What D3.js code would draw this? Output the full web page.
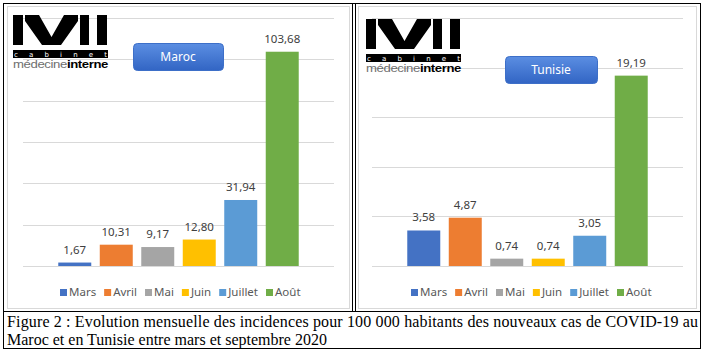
<!DOCTYPE html>
<html>
<head>
<meta charset="utf-8">
<script src="https://cdnjs.cloudflare.com/ajax/libs/d3/7.8.5/d3.min.js"></script>
<style>
  body { margin: 0; background: #fff; }
  svg { display: block; }
</style>
</head>
<body>
<div id="chart"></div>
<script>
var width_chart = 705,
    height_chart = 353;

// data
var months = ["Mars", "Avril", "Mai", "Juin", "Juillet", "Août"];
var colors = ["#4472C4", "#ED7D31", "#A5A5A5", "#FFC000", "#5B9BD5", "#70AD47"];
var maroc_values = [1.67, 10.31, 9.17, 12.80, 31.94, 103.68];
var tunisie_values = [3.58, 4.87, 0.74, 0.74, 3.05, 19.19];
var maroc_ticks = [0, 20, 40, 60, 80, 100, 120];
var tunisie_ticks = [0, 5, 10, 15, 20, 25];
var caption_lines = [
  "Figure 2 : Evolution mensuelle des incidences pour 100 000 habitants des nouveaux cas de COVID-19 au",
  "Maroc et en Tunisie entre mars et septembre 2020"
];

var font_ui = "'Noto Sans', 'Open Sans', sans-serif";

var svg = d3.select("#chart").append("svg")
    .attr("width", width_chart)
    .attr("height", height_chart);

var defs = svg.append("defs");
var grad = defs.append("linearGradient")
    .attr("id", "btn")
    .attr("x1", "0%").attr("y1", "0%")
    .attr("x2", "0%").attr("y2", "100%");
grad.append("stop").attr("offset", "0%").attr("stop-color", "#5b8ee2");
grad.append("stop").attr("offset", "100%").attr("stop-color", "#3265c4");

// table frame
var black = "#000";
function line(x1, y1, x2, y2, col, w) {
  svg.append("line")
    .attr("x1", x1).attr("y1", y1).attr("x2", x2).attr("y2", y2)
    .attr("stroke", col).attr("stroke-width", w || 1);
}

function drawChart(opts) {
  var g = svg.append("g");

  // chart area border
  g.append("rect")
    .attr("x", opts.left + 0.5).attr("y", 6.5)
    .attr("width", opts.right - opts.left).attr("height", 302)
    .attr("fill", "#fff").attr("stroke", "#d9d9d9");

  var x = d3.scaleBand()
    .domain(months)
    .range([opts.plotL, opts.plotR])
    .paddingInner(0.205)
    .paddingOuter(0.85);

  var y = d3.scaleLinear()
    .domain([0, opts.max])
    .range([266, 18]);

  // gridlines
  g.selectAll("line.grid")
    .data(opts.ticks)
    .enter().append("line")
    .attr("class", "grid")
    .attr("x1", opts.plotL).attr("x2", opts.plotR)
    .attr("y1", function(d) { return Math.round(y(d)) + 0.5; })
    .attr("y2", function(d) { return Math.round(y(d)) + 0.5; })
    .attr("stroke", "#d9d9d9");

  // bars
  g.selectAll("rect.bar")
    .data(opts.values)
    .enter().append("rect")
    .attr("class", "bar")
    .attr("x", function(d, i) { return x(months[i]); })
    .attr("width", x.bandwidth())
    .attr("y", function(d) { return y(d); })
    .attr("height", function(d) { return y(0) - y(d); })
    .attr("fill", function(d, i) { return colors[i]; });

  // labels
  g.selectAll("text.val")
    .data(opts.values)
    .enter().append("text")
    .attr("class", "val")
    .attr("x", function(d, i) { return x(months[i]) + x.bandwidth() / 2; })
    .attr("y", function(d) { return y(d) - 9; })
    .attr("text-anchor", "middle")
    .style("font", "11.5px " + font_ui)
    .style("fill", "#404040")
    .text(function(d) { return d.toFixed(2).replace(".", ","); });

  // legend
  var leg = g.append("g");
  var lx = 0, gap = 8;
  months.forEach(function(m, i) {
    leg.append("rect")
      .attr("x", lx).attr("y", -6)
      .attr("width", 7).attr("height", 7)
      .attr("fill", colors[i]);
    var t = leg.append("text")
      .attr("x", lx + 9).attr("y", 1)
      .style("font", "11.5px " + font_ui)
      .style("fill", "#595959")
      .text(m);
    lx += 9 + t.node().getComputedTextLength() + gap;
  });
  lx -= gap;
  leg.attr("transform", "translate(" + (opts.left + 53) + ",295)");

  // title button
  g.append("rect")
    .attr("x", opts.btn[0] + 0.5).attr("y", opts.btn[1] + 0.5)
    .attr("width", opts.btn[2]).attr("height", opts.btn[3])
    .attr("rx", 4)
    .attr("fill", "url(#btn)")
    .attr("stroke", "#3d6fc8");
  g.append("text")
    .attr("x", opts.btn[0] + opts.btn[2] / 2)
    .attr("y", opts.btn[1] + opts.btn[3] / 2 + 4)
    .attr("text-anchor", "middle")
    .style("font", "12px " + font_ui)
    .style("fill", "#fff")
    .text(opts.title);

  drawLogo(opts.logo[0], opts.logo[1], opts.logo[2]);
}

function drawLogo(x0, y0, s) {
  var lg = svg.append("g")
    .attr("transform", "translate(" + x0 + "," + y0 + ") scale(" + s + ")");
  // I
  lg.append("rect").attr("x", 0).attr("y", 0).attr("width", 10).attr("height", 30).attr("fill", "#000");
  // V (M middle)
  lg.append("path")
    .attr("d", "M12,0 L26,0 L38.5,22 L51,0 L65,0 L65,30 L12,30 Z")
    .attr("fill", "#000");
  lg.append("path")
    .attr("d", "M12,6 L29,30 L12,30 Z M65,6 L48,30 L65,30 Z")
    .attr("fill", "#fff");
  // I I
  lg.append("rect").attr("x", 67).attr("y", 0).attr("width", 9).attr("height", 30).attr("fill", "#000");
  lg.append("rect").attr("x", 84).attr("y", 0).attr("width", 10).attr("height", 30).attr("fill", "#000");
  // cabinet bar
  lg.append("rect").attr("x", 0).attr("y", 35).attr("width", 95).attr("height", 8).attr("fill", "#000");
  lg.append("text")
    .attr("x", 1).attr("y", 41.5)
    .attr("textLength", 93).attr("lengthAdjust", "spacing")
    .style("font", "7px 'DejaVu Sans', sans-serif")
    .style("fill", "#fff")
    .text("cabinet");
  var t = lg.append("text")
    .attr("x", 0).attr("y", 53)
    .attr("textLength", 95).attr("lengthAdjust", "spacingAndGlyphs")
    .style("font", "10px 'Liberation Sans', Arial, sans-serif")
    .style("letter-spacing", "-0.3px");
  t.append("tspan").style("fill", "#6e6e6e").text("médecine");
  t.append("tspan").style("fill", "#000").style("font-weight", "bold").text("interne");
}

drawChart({
  left: 7, right: 349, plotL: 23, plotR: 334,
  max: 120, ticks: maroc_ticks, values: maroc_values,
  title: "Maroc", btn: [133, 43, 90, 27], logo: [13, 15, 1]
});
drawChart({
  left: 358, right: 696, plotL: 372, plotR: 683,
  max: 25, ticks: tunisie_ticks, values: tunisie_values,
  title: "Tunisie", btn: [505, 56, 92, 27], logo: [366, 19, 1]
});

// frame lines
line(3.5, 3, 3.5, 349, black);
line(700.5, 3, 700.5, 349, black);
line(3, 3.5, 701, 3.5, black);
line(3, 348.5, 701, 348.5, black);
line(3, 311.5, 701, 311.5, black);
line(352.5, 3, 352.5, 311, black);
line(355.5, 3, 355.5, 311, black);

// caption
svg.append("text")
  .attr("x", 7).attr("y", 327)
  .attr("textLength", 691).attr("lengthAdjust", "spacing")
  .style("font", "16px 'Liberation Serif', 'Times New Roman', serif")
  .style("fill", "#000")
  .text(caption_lines[0]);
svg.append("text")
  .attr("x", 7).attr("y", 345)
  .style("font", "16px 'Liberation Serif', 'Times New Roman', serif")
  .style("fill", "#000")
  .text(caption_lines[1]);
</script>
</body>
</html>
